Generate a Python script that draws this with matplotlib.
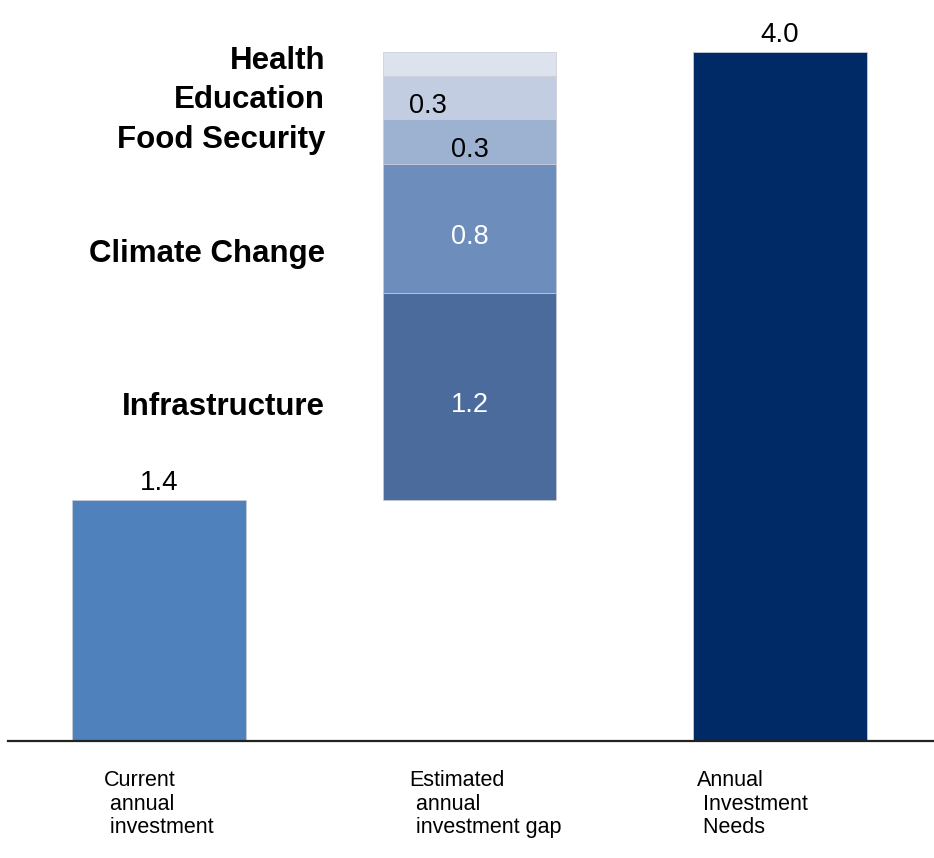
"""
Investment gap waterfall: current investment + gap by sector = annual needs.
"""

import matplotlib
matplotlib.use("Agg")
import matplotlib.pyplot as plt

plt.rcParams["font.family"] = ["Liberation Sans", "DejaVu Sans"]

# ── Data ───────────────────────────────────────────────────────────────────
categories = ["Current\n annual\n investment",
              "Estimated\n annual\n investment gap",
              "Annual\n Investment\n Needs"]
current_investment = 1.4
annual_needs = 4.0

gap_sectors = ["Infrastructure", "Climate Change", "Food Security", "Education", "Health"]
gap_values = [1.2, 0.75, 0.26, 0.25, 0.14]
gap_labels = ["1.2", "0.8", "0.3", "0.3", ""]

# ── Palette ────────────────────────────────────────────────────────────────
CURRENT_COLOR = "#4F81BD"
NEEDS_COLOR   = "#002A65"
GAP_COLORS    = ["#4A6B9B", "#6D8EBD", "#9DB1D1", "#C2CDE1", "#DCE3EE"]
GAP_TEXT      = ["white", "white", "black", "black", "black"]
EDGE          = "#C8CCD4"

W, H, DPI = 9.34, 8.58, 100
BAR_W = 0.56

fig = plt.figure(figsize=(W, H), dpi=DPI)
ax = fig.add_axes([0, 0, 1, 1])
ax.set_xlim(-0.512, 2.496)
ax.set_ylim(-0.679, 4.30)
ax.axis("off")

# totals
ax.bar(0, current_investment, width=BAR_W, color=CURRENT_COLOR,
       edgecolor=EDGE, linewidth=0.6, zorder=2)
ax.bar(2, annual_needs, width=BAR_W, color=NEEDS_COLOR,
       edgecolor=EDGE, linewidth=0.6, zorder=2)

for x, v in [(0, current_investment), (2, annual_needs)]:
    ax.annotate(f"{v:.1f}", xy=(x, v), xytext=(0, 3), textcoords="offset points",
                ha="center", va="bottom", fontsize=20, color="black")

# stacked gap
label_dx = [0, 0, 0, -0.135, 0]               # nudge for the crowded small labels
side_dy  = [-0.06, -0.15, 0.01, -0.015, 0.015]  # sector label offsets from segment middle
bottom = current_investment
for i, (name, v) in enumerate(zip(gap_sectors, gap_values)):
    ax.bar(1, v, bottom=bottom, width=BAR_W, color=GAP_COLORS[i],
           edgecolor=EDGE, linewidth=0.5, zorder=2)
    mid = bottom + v / 2
    if gap_labels[i]:
        ax.text(1 + label_dx[i], mid - 0.05, gap_labels[i], ha="center", va="center",
                fontsize=19.5, color=GAP_TEXT[i], zorder=3)
    ax.text(0.535, mid + side_dy[i], name, ha="right", va="center",
            fontsize=22.5, fontweight="bold", color="black")
    bottom += v

# baseline
ax.axhline(0, xmin=8 / 934, xmax=1, color="#222222", linewidth=1.6, zorder=3)

# category labels under the axis
cat_dx = [-0.177, -0.193, -0.267]
for i, c in enumerate(categories):
    ax.text(i + cat_dx[i], -0.17, c, ha="left", va="top",
            fontsize=15.5, color="black", linespacing=1.15)

fig.savefig("out.png", dpi=DPI, facecolor="white")
